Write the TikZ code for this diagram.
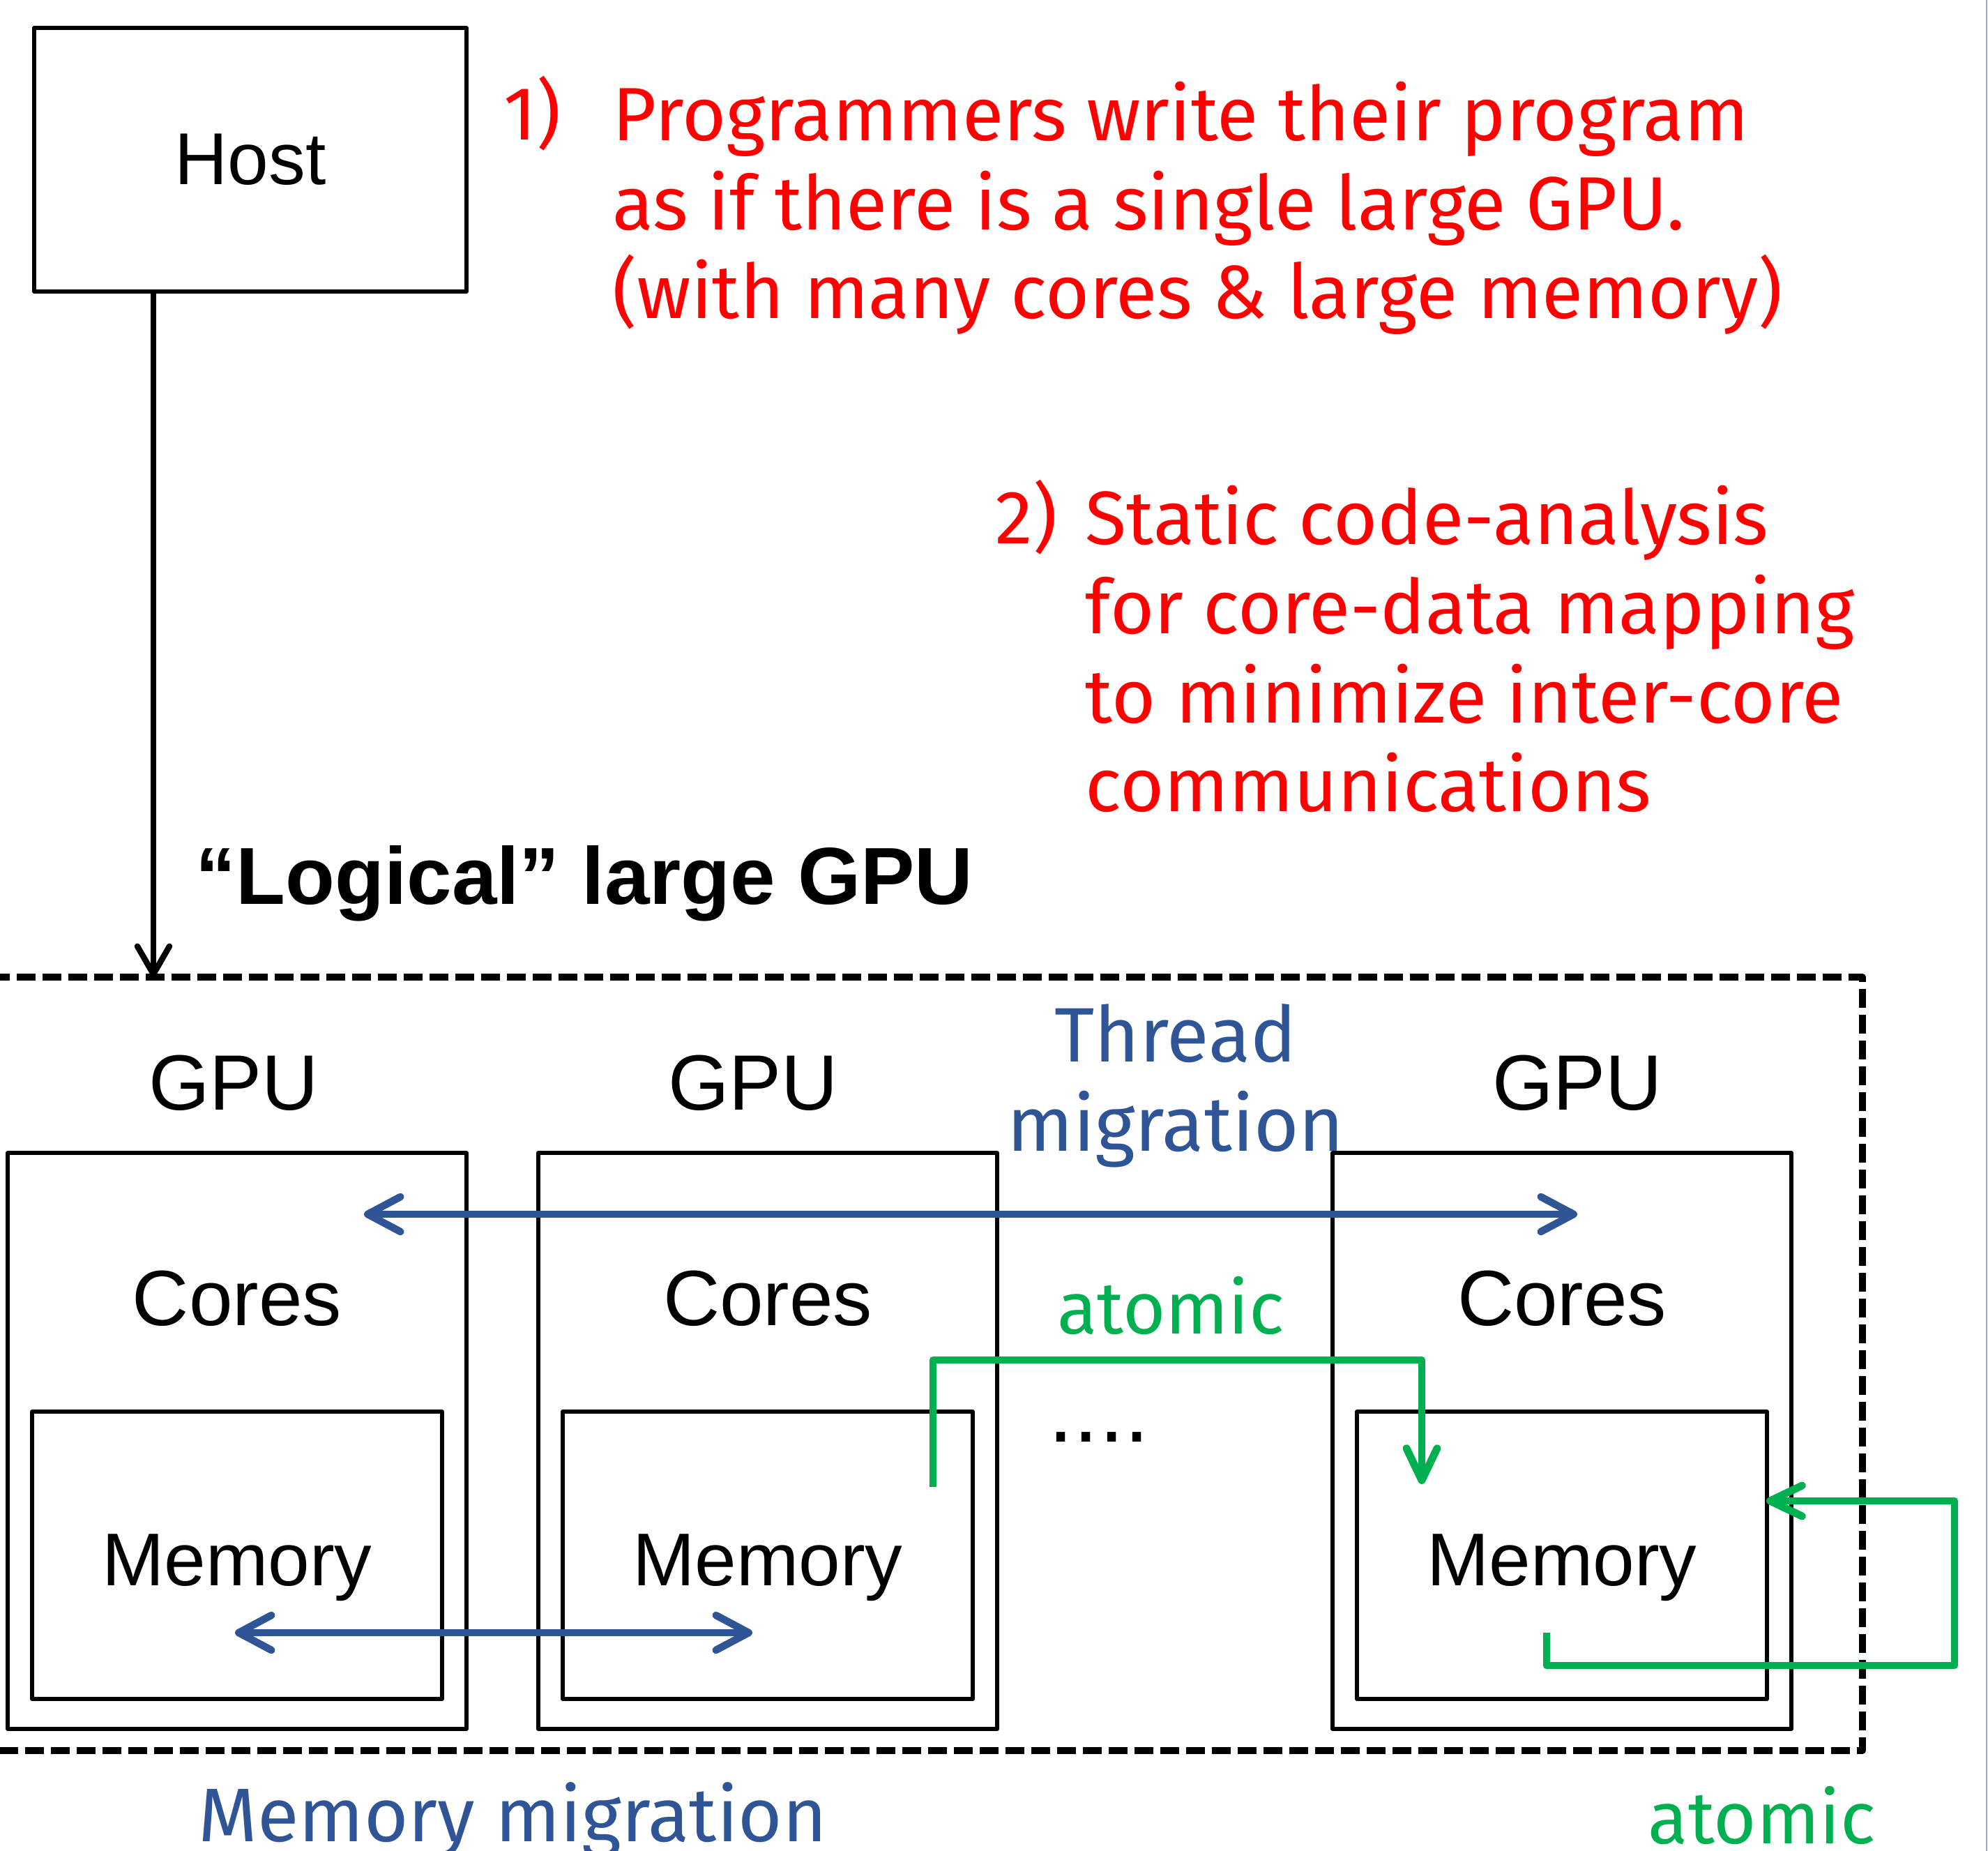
\documentclass[tikz,border=0pt]{standalone}
\usepackage{fontspec}
\setmainfont{Liberation Sans}
\newfontfamily\handfont{Fira Sans}
\usetikzlibrary{arrows.meta}
\definecolor{tred}{RGB}{255,0,0}
\definecolor{tblue}{RGB}{47,85,151}
\definecolor{tgreen}{RGB}{0,176,80}
\definecolor{tedge}{RGB}{150,170,215}
\begin{document}
\begin{tikzpicture}[y=-1cm, line join=round,
	>={Straight Barb[length=0.4cm,width=0.46cm,round]},
	box/.style={draw, line width=1.6pt, inner sep=0pt},
	lbl/.style={anchor=base, font=\fontsize{32}{38}\selectfont},
	hand/.style={font=\handfont\fontsize{30.8}{36.4}\selectfont, align=left, anchor=base west, inner sep=0pt},
	blueline/.style={tblue, line width=3pt, {Straight Barb[length=0.47cm,width=0.5cm,round]}-{Straight Barb[length=0.47cm,width=0.5cm,round]}},
	greenline/.style={tgreen, line width=3.1pt, -{Straight Barb[length=0.46cm,width=0.44cm,round]}}]
	\useasboundingbox (0,0) rectangle (28.51,26.54);
	\clip (0,0) rectangle (28.51,26.54);
	\draw[tedge, line width=0.6pt] (28.49,0) -- (28.49,26.54);
	\node[box, minimum width=6.2cm, minimum height=3.78cm, font=\fontsize{30}{36}\selectfont] (host) at (3.59,2.29) {Host};
	\node[hand, tred] (num1) at (7.22,2.01) {1)};
	\node[hand, tred] (step1) at (8.78,4.57) {Programmers write their program\\as if there is a single large GPU.\\(with many cores \& large memory)};
	\node[hand, tred] (num2) at (14.27,7.80) {2)};
	\node[hand, tred] (step2) at (15.56,11.64) {Static code-analysis\\for core-data mapping\\to minimize inter-core\\communications};
	\node[anchor=base west, inner sep=0pt, font=\bfseries\fontsize{33}{40}\selectfont] (logical) at (2.80,12.97) {“Logical” large GPU};
	\coordinate (gpuin) at (2.20,14.01);
	\draw[line width=2.8pt, dash pattern=on 0.27cm off 0.1cm] (-0.5,14.01) -- (26.71,14.01) -- (26.71,25.10) -- (-0.5,25.10);
	\draw[->, line width=2.4pt] (host.south -| gpuin) -- (gpuin);
	\foreach \i/\x/\g in {1/3.40/3.35, 2/11.01/10.80, 3/22.40/22.62}{
		\node[box, minimum width=6.58cm, minimum height=8.26cm] (gpu\i) at (\x,20.66) {};
		\node[box, minimum width=5.88cm, minimum height=4.12cm] (mem\i) at (\x,22.30) {};
		\node[lbl] (gputxt\i) at (\g,15.91) {GPU};
		\node[lbl] (cores\i) at (\x,19.00) {Cores};
		\node[lbl, font=\fontsize{30.5}{36}\selectfont] (memtxt\i) at (\x,22.73) {Memory};
	}
	\node[font=\handfont\fontsize{31.5}{36.4}\selectfont, tblue, align=center, anchor=base, inner sep=0pt] (thread) at (16.86,16.50) {Thread\\migration};
	\node[font=\handfont\fontsize{30}{36}\selectfont, tgreen, anchor=base, inner sep=0pt] (atom1) at (16.79,19.12) {atomic};
	\node[anchor=base, font=\fontsize{37}{40}\selectfont] (dots) at (15.76,20.67) {....};
	\node[font=\handfont\fontsize{31}{36}\selectfont, tblue, anchor=base west, inner sep=0pt] (memmig) at (2.84,26.40) {Memory migration};
	\node[font=\handfont\fontsize{30}{36}\selectfont, tgreen, anchor=base west, inner sep=0pt] (atom2) at (23.63,26.43) {atomic};
	\coordinate (tml) at (5.22,17.41);
	\coordinate (tmr) at (22.62,17.41);
	\draw[blueline] (tml) -- (tmr);
	\coordinate (mml) at (3.37,23.41);
	\coordinate (mmr) at (10.79,23.41);
	\draw[blueline] (mml) -- (mmr);
	\coordinate (ga) at (13.38,21.32);
	\coordinate (gb) at (20.39,21.28);
	\draw[greenline] (ga) -- ++(0,-1.82) -| (gb);
	\coordinate (gc) at (22.18,23.41);
	\coordinate (gd) at (25.33,21.52);
	\draw[greenline] (gc) -- ++(0,0.47) -- ++(5.85,0) |- (gd);
\end{tikzpicture}
\end{document}
